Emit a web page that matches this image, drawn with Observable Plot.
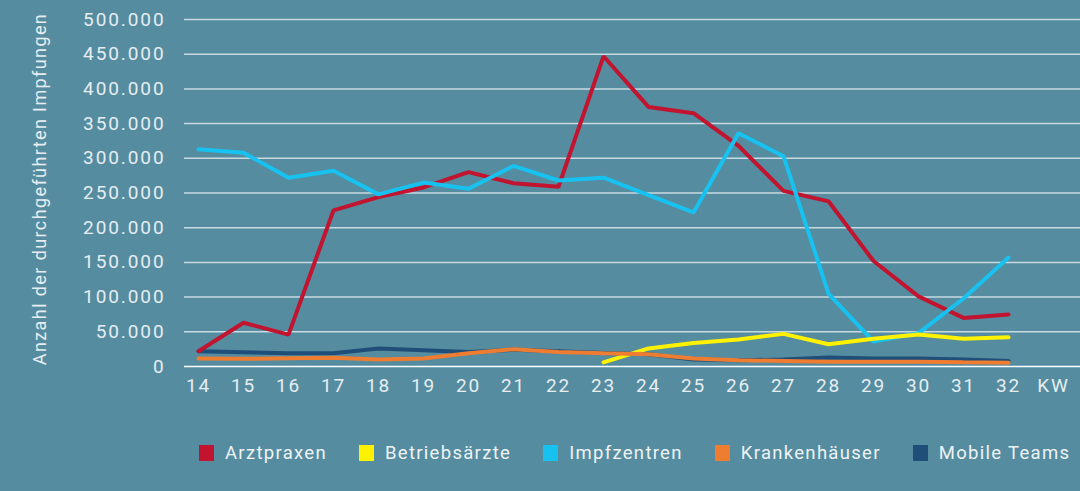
<!DOCTYPE html>
<html>
<head>
<meta charset="utf-8">
<script src="https://cdn.jsdelivr.net/npm/d3@7"></script>
<script src="https://cdn.jsdelivr.net/npm/@observablehq/plot@0.6"></script>
<style>
  html, body { margin: 0; padding: 0; background: #558ca0; }
  body { width: 1080px; height: 491px; overflow: hidden; font-family: Roboto, "DejaVu Sans", sans-serif; }
  #legend { display: flex; align-items: center; height: 45px; padding-left: 199px; box-sizing: border-box; width: 1200px; }
  .item { display: flex; align-items: center; margin-right: 32px; color: #eef3f5; font-size: 18.5px; letter-spacing: 1.3px; white-space: nowrap; flex-shrink: 0; }
  .sw { width: 15px; height: 16px; margin-right: 11px; }
  .ylab { letter-spacing: 1.4px; }
</style>
</head>
<body>
<div id="chart"></div>
<div id="legend"></div>
<script>
const weeks = ["14","15","16","17","18","19","20","21","22","23","24","25","26","27","28","29","30","31","32"];
const xTicks = [...weeks, "KW"];
const yTicks = [0, 50000, 100000, 150000, 200000, 250000, 300000, 350000, 400000, 450000, 500000];

const seriesNames = ["Arztpraxen", "Betriebsärzte", "Impfzentren", "Krankenhäuser", "Mobile Teams"];
const seriesColors = ["#c2132f", "#fff200", "#17c2f0", "#ee7d31", "#1f4e79"];

const arztpraxen    = [22000, 63000, 46000, 225000, 244000, 258000, 280000, 264000, 259000, 447000, 374000, 365000, 318000, 253000, 238000, 152000, 101000, 70000, 75000];
const betriebsaerzte = [null, null, null, null, null, null, null, null, null, 6000, 26000, 34000, 39000, 47000, 32000, 40000, 46000, 40000, 42000];
const impfzentren   = [313000, 308000, 272000, 282000, 248000, 265000, 256000, 289000, 268000, 272000, 247000, 222000, 336000, 303000, 105000, 36000, 48000, 98000, 157000];
const krankenhaeuser = [11500, 11000, 12000, 12500, 10000, 11500, 19000, 25000, 21000, 19000, 17500, 11500, 9000, 8000, 7000, 7000, 7000, 6000, 5500];
const mobileTeams   = [22000, 20500, 19000, 19000, 26000, 23500, 21000, 24000, 22000, 19500, 17500, 10000, 9000, 10000, 13000, 11500, 11500, 10000, 8000];

const seriesValues = [arztpraxen, betriebsaerzte, impfzentren, krankenhaeuser, mobileTeams];
const drawOrder = ["Mobile Teams", "Arztpraxen", "Impfzentren", "Betriebsärzte", "Krankenhäuser"];

const rows = [];
for (const name of drawOrder) {
  const i = seriesNames.indexOf(name);
  seriesValues[i].forEach((v, j) => {
    if (v != null) rows.push({series: name, week: weeks[j], value: v});
  });
}

const de = d3.formatLocale({decimal: ",", thousands: ".", grouping: [3], currency: ["", " €"]});
const fmt = de.format(",");

const textColor = "#e6eef1";

const chart = Plot.plot({
  width: 1080,
  height: 430,
  marginLeft: 184,
  marginRight: 0,
  marginTop: 19,
  marginBottom: 64,
  style: {background: "transparent", fontFamily: "Roboto, 'DejaVu Sans', sans-serif", fontSize: "19px", color: textColor, letterSpacing: "1.9px"},
  x: {type: "point", domain: xTicks, range: [191, 1059], padding: 0},
  y: {domain: [0, 500000]},
  color: {domain: seriesNames, range: seriesColors},
  marks: [
    Plot.ruleY(yTicks.filter(d => d > 0), {stroke: "#d6e3e8", strokeWidth: 1.5, strokeOpacity: 0.9}),
    Plot.ruleY([0], {stroke: "#ffffff", strokeWidth: 1.5}),
    Plot.axisY({ticks: yTicks, tickSize: 0, tickPadding: 19, tickFormat: fmt, label: null, fill: textColor}),
    Plot.axisX({ticks: xTicks, tickSize: 0, tickPadding: 12, label: null, fill: textColor}),
    Plot.text(["Anzahl der durchgeführten Impfungen"], {frameAnchor: "left", textAnchor: "middle", rotate: -90, dx: -144, dy: -4, fill: textColor, fontSize: 18, className: "ylab"}),
    Plot.line(rows, {x: "week", y: "value", z: "series", stroke: "series", strokeWidth: 4, strokeLinejoin: "miter", strokeLinecap: "round", sort: null})
  ]
});
document.getElementById("chart").appendChild(chart);

const legend = document.getElementById("legend");
seriesNames.forEach((name, i) => {
  const item = document.createElement("div");
  item.className = "item";
  const sw = document.createElement("div");
  sw.className = "sw";
  sw.style.background = seriesColors[i];
  const label = document.createElement("span");
  label.textContent = name;
  item.appendChild(sw);
  item.appendChild(label);
  legend.appendChild(item);
});
</script>
</body>
</html>
